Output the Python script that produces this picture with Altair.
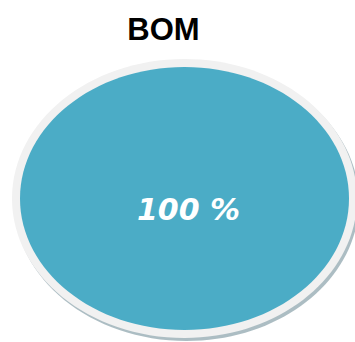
import altair as alt
import pandas as pd

# ---- data ----
categories = ["BOM"]
values = [100]
labels = ["100 %"]

df = pd.DataFrame({"category": categories, "value": values, "label": labels})

# ---- styling ----
BLUE = "#4bacc6"
RING = "#f1f1f1"
SHADOW = "#a3b6bc"
FONT = "Arial"
LABEL_FONT = "DejaVu Sans"

BLUE_W, BLUE_H = 329, 263
RING_W, RING_H = 345, 279


def ellipse(ratio):
    return f"M-1,0A1,{ratio} 0 1,1 1,0A1,{ratio} 0 1,1 -1,0Z"


base = alt.Chart(df)

shadow = base.mark_point(
    shape=ellipse(RING_H / RING_W), size=RING_W ** 2, filled=True,
    fill=SHADOW, opacity=0.9, strokeWidth=0, xOffset=2, yOffset=3
).encode(detail="category:N")

ring = base.mark_point(
    shape=ellipse(RING_H / RING_W), size=RING_W ** 2, filled=True,
    fill=RING, opacity=1, strokeWidth=0
).encode(detail="category:N")

pie = base.mark_point(
    shape=ellipse(BLUE_H / BLUE_W), size=BLUE_W ** 2, filled=True,
    fill=BLUE, opacity=1, strokeWidth=0
).encode(detail="category:N", tooltip=["category:N", "value:Q"])

label = base.mark_text(
    font=LABEL_FONT, fontSize=30, fontWeight="bold", fontStyle="italic",
    color="white", align="center", baseline="alphabetic", dx=4, dy=21
).encode(text="label:N")

chart = alt.layer(shadow, ring, pie, label).properties(
    width=341,
    height=287,
    padding={"left": 14, "top": 55, "right": 0, "bottom": 0},
    autosize=alt.AutoSizeParams(type="none"),
    title=alt.TitleParams(
        text="BOM", font=FONT, fontSize=31, fontWeight="bold", color="black",
        anchor="middle", dx=-21, dy=33, offset=17, baseline="alphabetic"
    ),
).configure_view(stroke=None)

chart.save("out.html", embed_options={"renderer": "svg", "actions": False})
